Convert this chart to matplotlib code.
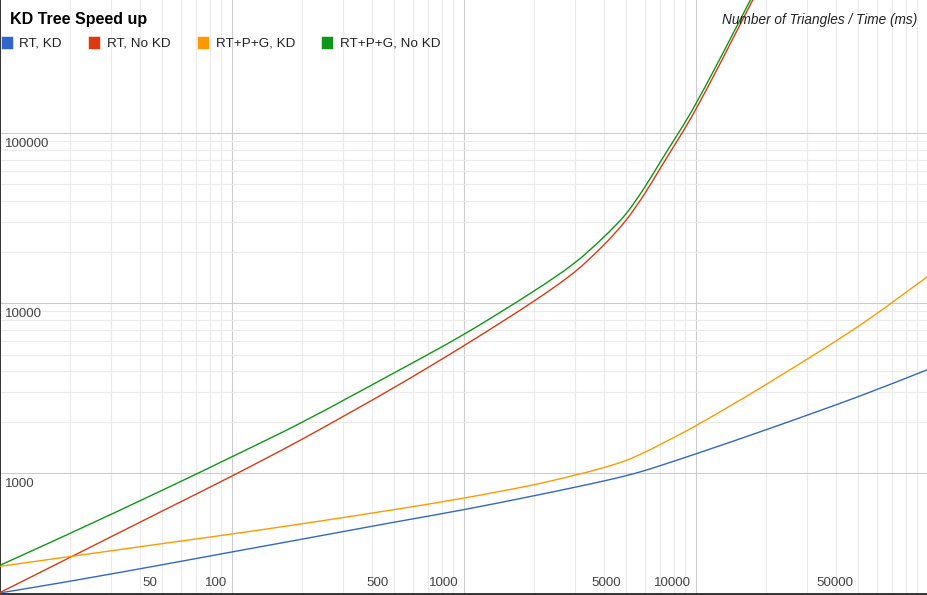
import matplotlib
matplotlib.use('Agg')
import matplotlib.pyplot as plt
import matplotlib.ticker as ticker
from matplotlib.patches import Rectangle, PathPatch
from matplotlib.path import Path
import numpy as np

W, H = 928, 595

# number of triangles (x) and time in ms (y)
triangles = [10, 20, 50, 100, 200, 500, 1000, 2000, 3000, 4000, 5000, 6000, 7000,
             10000, 20000, 50000, 100000]
rt_kd = [198, 232, 290, 345, 410, 516, 612, 738, 828, 902, 969, 1038, 1109,
         1303, 1803, 2825, 4083]
rt_no_kd = [199, 320, 600, 965, 1585, 3200, 5640, 10300, 15300, 22000, 30900, 44000, 62000,
            139000, 857000, np.nan, np.nan]
rtpg_kd = [284, 324, 386, 440, 505, 612, 716, 857, 975, 1081, 1191, 1328, 1476,
           1908, 3327, 7311, 14420]
rtpg_no_kd = [288, 443, 795, 1252, 1995, 3900, 6580, 11800, 17300, 24500, 33700, 48000, 67500,
              149700, 908000, np.nan, np.nan]

series = [
    ('RT, KD', rt_kd, '#3366cc'),
    ('RT, No KD', rt_no_kd, '#dc3912'),
    ('RT+P+G, KD', rtpg_kd, '#ff9900'),
    ('RT+P+G, No KD', rtpg_no_kd, '#109618'),
]

x_labels = [50, 100, 500, 1000, 5000, 10000, 50000]
y_labels = [1000, 10000, 100000]


def smooth_path(xs, ys):
    # cubic curve through the points (like curveType 'function'), built in log space
    xs = np.asarray(xs, float)
    ys = np.asarray(ys, float)
    ok = ~np.isnan(ys)
    lx, ly = np.log10(xs[ok]), np.log10(ys[ok])
    n = len(lx)
    slope = np.empty(n)
    slope[0] = (ly[1] - ly[0]) / (lx[1] - lx[0])
    slope[-1] = (ly[-1] - ly[-2]) / (lx[-1] - lx[-2])
    slope[1:-1] = (ly[2:] - ly[:-2]) / (lx[2:] - lx[:-2])
    verts = [(lx[0], ly[0])]
    codes = [Path.MOVETO]
    for i in range(n - 1):
        d = (lx[i + 1] - lx[i]) / 3
        verts += [(lx[i] + d, ly[i] + slope[i] * d),
                  (lx[i + 1] - d, ly[i + 1] - slope[i + 1] * d),
                  (lx[i + 1], ly[i + 1])]
        codes += [Path.CURVE4] * 3
    verts = 10 ** np.array(verts)
    return Path(verts, codes)


plt.rcParams['font.family'] = ['Liberation Sans', 'DejaVu Sans']

fig = plt.figure(figsize=(W / 100, H / 100), dpi=100)
ax = fig.add_axes([0.0, 1.5 / H, 1.0, 593.5 / H])

for name, values, color in series:
    ax.add_patch(PathPatch(smooth_path(triangles, values), facecolor='none',
                           edgecolor=color, lw=1.0, zorder=3))

ax.set_xscale('log')
ax.set_yscale('log')
ax.set_xlim(10, 100000)
ax.set_ylim(196.5, 608000)

# gridlines
ax.xaxis.set_major_locator(ticker.FixedLocator([10, 100, 1000, 10000, 100000]))
ax.xaxis.set_minor_locator(ticker.LogLocator(base=10, subs=np.arange(2, 10), numticks=20))
ax.yaxis.set_major_locator(ticker.FixedLocator(y_labels))
ax.yaxis.set_minor_locator(ticker.FixedLocator([k * 10 ** e for e in (3, 4) for k in range(2, 10)]))
ax.grid(which='major', color='#cccccc', lw=0.8)
ax.grid(which='minor', color='#ebebeb', lw=0.8)
ax.set_axisbelow(True)
ax.tick_params(which='both', length=0, labelbottom=False, labelleft=False)

for side in ('top', 'right'):
    ax.spines[side].set_visible(False)
for side in ('left', 'bottom'):
    ax.spines[side].set_color('#333333')
    ax.spines[side].set_linewidth(1.4)

# tick labels
for v in x_labels:
    ax.annotate(str(v), xy=(v, 196.5), xytext=(-5, 5), textcoords='offset pixels',
                ha='right', va='bottom', fontsize=9.6, color='#444444', zorder=5)
for v in y_labels:
    ax.annotate(str(v), xy=(10, v), xytext=(5, -5), textcoords='offset pixels',
                ha='left', va='top', fontsize=9.6, color='#444444', zorder=5)

# title and axis title
fig.text(10 / W, 1 - 24.3 / H, 'KD Tree Speed up', fontsize=11.5, fontweight='bold',
         color='black', ha='left', va='baseline')
fig.text(917 / W, 1 - 24 / H, 'Number of Triangles / Time (ms)', fontsize=9.8,
         style='italic', color='#222222', ha='right', va='baseline')

# legend
square_x = [1, 88, 197, 321]
text_x = [19, 107, 216, 340]
for (name, values, color), sx, tx in zip(series, square_x, text_x):
    fig.add_artist(Rectangle((sx / W, 1 - 48.5 / H), 12 / W, 12 / H, transform=fig.transFigure,
                             facecolor=color, edgecolor='white', lw=0.4))
    fig.text(tx / W, 1 - 46.7 / H, name, fontsize=9.7, color='#222222', ha='left', va='baseline')

fig.savefig('out.png', dpi=100)
